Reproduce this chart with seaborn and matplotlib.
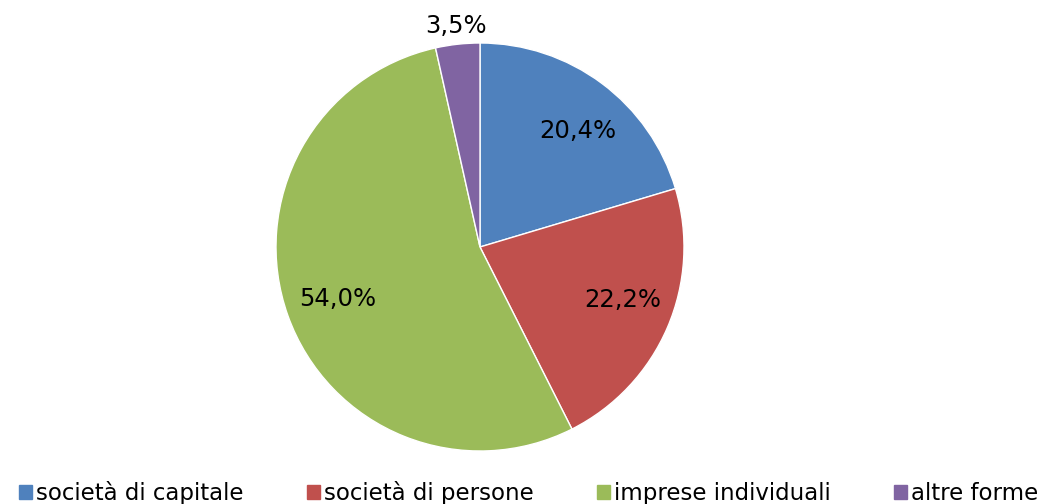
import matplotlib
matplotlib.use("Agg")
import matplotlib.pyplot as plt
import numpy as np
import seaborn as sns

# data
categories = ["società di capitale", "società di persone", "imprese individuali", "altre forme"]
shares = [20.4, 22.2, 54.0, 3.5]
pct_labels = ["20,4%", "22,2%", "54,0%", "3,5%"]

sns.set_theme(style="white")
plt.rcParams["font.family"] = ["DejaVu Sans"]
colors = sns.color_palette(["#4F81BD", "#C0504D", "#9BBB59", "#8064A2"])

fig = plt.figure(figsize=(10.41, 5.04), dpi=100)
# pie centred at (480, 247) px, radius ~204 px
cx, cy, r = 480, 504 - 247, 204
ax = fig.add_axes([(cx - r) / 1041, (cy - r) / 504, 2 * r / 1041, 2 * r / 504])

wedges, texts = ax.pie(shares, colors=colors, startangle=90, counterclock=False,
                       wedgeprops=dict(linewidth=1, edgecolor="white"))
ax.set_xlim(-1, 1)
ax.set_ylim(-1, 1)
ax.set_aspect("equal")

# percentage labels, inside except the small slice (small angle nudges like Excel)
nudge = [-3.5, 3.0, 0.5, 0.0]
for w, lab, dn in zip(wedges, pct_labels, nudge):
    ang = np.deg2rad((w.theta1 + w.theta2) / 2 + dn)
    dist = 1.09 if lab == "3,5%" else 0.745
    ax.text(dist * np.cos(ang), dist * np.sin(ang), lab, ha="center", va="center",
            fontsize=17.5, color="black")

handles = [plt.Rectangle((0, 0), 1, 1, color=c) for c in colors]
fig.legend(handles, categories, loc="lower center", bbox_to_anchor=(0.508, -0.043), ncol=4,
           frameon=False, fontsize=16.5, handlelength=0.55, handleheight=0.55,
           handletextpad=0.2, columnspacing=2.75, labelcolor="black")

fig.savefig("out.png", dpi=100)
